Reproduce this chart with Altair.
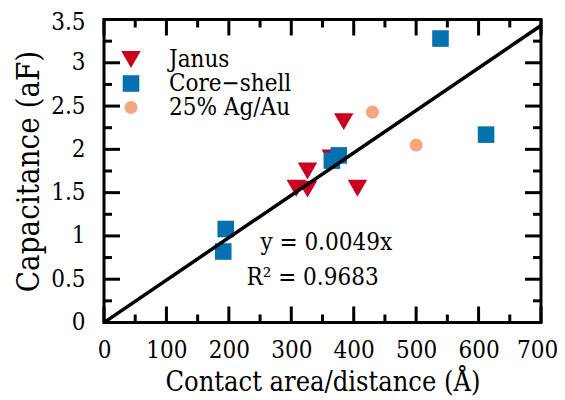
import altair as alt
import pandas as pd

# ---- data ----
janus_x = [308, 326, 326, 364, 384, 406]
janus_y = [1.55, 1.54, 1.75, 1.90, 2.32, 1.55]
core_x = [191, 195, 365, 376, 539, 612]
core_y = [0.82, 1.08, 1.87, 1.93, 3.28, 2.17]
agau_x = [430, 500]
agau_y = [2.43, 2.05]

series_names = ["Janus", "Core\u2212shell", "25% Ag/Au"]
series_colors = ["#ca0020", "#0571b0", "#f4a582"]
series_shapes = ["triangle-down", "square", "circle"]
series_sizes = [380, 170, 170]

fit_x = [0, 700]
fit_y = [0.0, 3.43]

ann_text = ["y = 0.0049x", "R\u00b2 = 0.9683"]
ann_x = [356, 334]
ann_y = [0.834, 0.438]

x_major = [0, 100, 200, 300, 400, 500, 600, 700]
x_minor = [50, 150, 250, 350, 450, 550, 650]
y_major = [0, 0.5, 1, 1.5, 2, 2.5, 3, 3.5]
y_minor = [0.25, 0.75, 1.25, 1.75, 2.25, 2.75, 3.25]

# ---- layout / style ----
W, H = 437, 303
MAJ, MIN = 16, 8
FONT = "DejaVu Serif Condensed"

rows = []
for name, xs_, ys_ in zip(series_names, [janus_x, core_x, agau_x], [janus_y, core_y, agau_y]):
    for a, b in zip(xs_, ys_):
        rows.append({"series": name, "x": a, "y": b})
pts = pd.DataFrame(rows)
pts["ord"] = range(len(pts))

xs = alt.Scale(domain=[0, 700], nice=False, zero=False)
ys = alt.Scale(domain=[0, 3.5], nice=False, zero=False)

X_TITLE = "Contact area/distance (\u00c5)"
Y_TITLE = "Capacitance (aF)"

x_axis = alt.Axis(values=x_major, ticks=False, domain=False, grid=False,
                  labelFont=FONT, labelFontSize=24, labelColor="black",
                  labelPadding=16, labelFlush=False, labelOverlap=False, format="d",
                  labelOffset={"condition": {"test": "datum.value === 700", "value": -4}, "value": 0},
                  titleFont=FONT, titleFontSize=27, titleFontWeight="normal",
                  titleColor="black", titlePadding=7)
y_axis = alt.Axis(values=y_major, ticks=False, domain=False, grid=False,
                  labelFont=FONT, labelFontSize=24, labelColor="black",
                  labelPadding=19, labelFlush=False, labelOverlap=False, format="~g",
                  labelOffset={"condition": {"test": "datum.value === 3.5", "value": 3}, "value": 0},
                  titleFont=FONT, titleFontSize=31, titleFontWeight="normal",
                  titleColor="black", titlePadding=5)


def X(field):
    return alt.X(field, scale=xs, axis=x_axis, title=X_TITLE)


def Y(field):
    return alt.Y(field, scale=ys, axis=y_axis, title=Y_TITLE)


points = alt.Chart(pts).mark_point(filled=True, opacity=1, strokeWidth=0).encode(
    x=X("x:Q"),
    y=Y("y:Q"),
    color=alt.Color("series:N", scale=alt.Scale(domain=series_names, range=series_colors), title=None),
    shape=alt.Shape("series:N", scale=alt.Scale(domain=series_names, range=series_shapes), title=None),
    size=alt.Size("series:N", scale=alt.Scale(domain=series_names, range=series_sizes), title=None),
    order=alt.Order("ord:Q"),
)

fit = alt.Chart(pd.DataFrame({"x": fit_x, "y": fit_y})).mark_line(
    color="black", strokeWidth=3.5, clip=True
).encode(x=X("x:Q"), y=Y("y:Q"))

ann = alt.Chart(pd.DataFrame({"t": ann_text, "x": ann_x, "y": ann_y})).mark_text(
    font=FONT, fontSize=24, color="black", align="center", baseline="alphabetic"
).encode(x=X("x:Q"), y=Y("y:Q"), text="t:N")


def xticks(vals, length, bottom):
    y0 = H if bottom else 0
    y1 = H - length if bottom else length
    return alt.Chart(pd.DataFrame({"x": vals})).mark_rule(color="black", strokeWidth=3).encode(
        x=X("x:Q"), y=alt.value(y0), y2=alt.value(y1))


def yticks(vals, length, left):
    x0 = 0 if left else W
    x1 = length if left else W - length
    return alt.Chart(pd.DataFrame({"y": vals})).mark_rule(color="black", strokeWidth=3).encode(
        y=Y("y:Q"), x=alt.value(x0), x2=alt.value(x1))


ticks = [
    xticks(x_major, MAJ, True), xticks(x_minor, MIN, True),
    xticks(x_major, MAJ, False), xticks(x_minor, MIN, False),
    yticks(y_major, MAJ, True), yticks(y_minor, MIN, True),
    yticks(y_major, MAJ, False), yticks(y_minor, MIN, False),
]

chart = alt.layer(points, fit, ann, *ticks).properties(
    width=W, height=H,
    autosize=alt.AutoSizeParams(type="none"),
    padding={"left": 96, "top": 11.5, "right": 16, "bottom": 76},
    background="white",
).configure_view(
    stroke="black", strokeWidth=3
).configure_legend(
    orient="none", legendX=15, legendY=28, padding=0,
    labelFont=FONT, labelFontSize=24, labelColor="black", labelOffset=26,
    rowPadding=-9, symbolOpacity=1, symbolStrokeWidth=0,
)

chart.save("out.html", embed_options={"renderer": "svg", "actions": False})
